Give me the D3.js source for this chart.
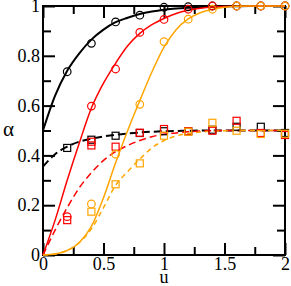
<!DOCTYPE html>
<html lang="en">
<head>
<meta charset="utf-8">
<script src="https://cdnjs.cloudflare.com/ajax/libs/d3/7.8.5/d3.min.js"></script>
<style>
body { margin: 0; background: #fff; }
text { font-family: "Liberation Serif", "DejaVu Serif", serif; }
</style>
</head>
<body>
<div id="chart"></div>
<script>

var curveU = [0,0.1,0.2,0.3,0.4,0.5,0.6,0.7,0.8,0.9,1,1.1,1.2,1.3,1.4,1.5,1.6,1.7,1.8,1.9,2]
var blackSolid   = [0.5,0.64,0.74,0.81,0.865,0.905,0.935,0.953,0.968,0.978,0.985,0.99,0.993,0.995,0.997,0.998,0.999,1,1,1,1]
var blackDashed  = [0.355,0.405,0.435,0.455,0.467,0.476,0.483,0.488,0.492,0.495,0.497,0.498,0.499,0.5,0.5,0.5,0.5,0.5,0.5,0.5,0.5]
var redSolid     = [0,0.14,0.3,0.45,0.59,0.69,0.77,0.84,0.89,0.925,0.95,0.97,0.983,0.991,0.996,0.998,0.999,1,1,1,1]
var redDashed    = [0,0.1,0.19,0.27,0.33,0.38,0.415,0.44,0.46,0.475,0.485,0.49,0.495,0.498,0.499,0.5,0.5,0.5,0.5,0.5,0.5]
var orangeSolid  = [0,0.004,0.018,0.05,0.115,0.23,0.37,0.5,0.62,0.735,0.835,0.905,0.948,0.973,0.987,0.995,0.999,1,1,1,1]
var orangeDashed = [0,0.004,0.018,0.05,0.105,0.19,0.28,0.335,0.385,0.43,0.46,0.478,0.488,0.494,0.497,0.499,0.5,0.5,0.5,0.5,0.5]

// symbols
var pointU = [0.2,0.4,0.6,0.8,1,1.2,1.4,1.6,1.8,2]
var blackCircles  = [0.736,0.85,0.936,0.963,0.995,0.997,1,1,1,1]
var redCircles    = [0.154,0.598,0.747,0.894,0.946,0.987,1,1,1,1]
var orangeCircles = [null,0.205,0.405,0.605,0.857,0.947,0.987,1,1,1]
var blackSquares  = [0.43,0.463,0.479,0.49,0.497,0.497,0.503,0.515,0.515,0.49]
var redSquares    = [0.14,0.44,0.435,0.491,0.506,0.497,0.499,0.539,0.49,0.482]
var redSquaresExtra = [null,0.455,null,null,null,null,null,null,null,null]
var orangeSquares = [null,0.174,0.284,0.368,0.479,0.495,0.531,0.499,0.486,0.487]

var xMajor = [0,0.5,1,1.5,2]
var xMinor = [0.25,0.75,1.25,1.75]
var yMajor = [0,0.2,0.4,0.6,0.8,1]
var yMinor = [0.1,0.3,0.5,0.7,0.9]

var svgWidth = 291, svgHeight = 286
var plotLeft = 43, plotRight = 285, plotTop = 6, plotBottom = 255

var svg = d3.select('#chart').append('svg')
    .attr('width', svgWidth)
    .attr('height', svgHeight)

var x = d3.scaleLinear().domain([0,2]).range([plotLeft,plotRight])
var y = d3.scaleLinear().domain([0,1]).range([plotBottom,plotTop])

function fmt(d) { return String(d) }

// ticks, all pointing inside
function addAxis(axis, tx, ty) {
    var g = svg.append('g')
        .attr('transform', 'translate('+tx+','+ty+')')
        .call(axis)
    g.select('.domain').remove()
    g.selectAll('line').attr('stroke', '#000').attr('stroke-width', 2)
    g.selectAll('text')
        .attr('font-family', '"Liberation Serif", serif')
        .attr('font-size', 18)
        .attr('fill', '#000')
    return g
}
addAxis(d3.axisBottom(x).tickValues(xMajor).tickSize(-12).tickPadding(2).tickFormat(fmt), 0, plotBottom)
addAxis(d3.axisBottom(x).tickValues(xMinor).tickSize(-8).tickFormat(''), 0, plotBottom)
addAxis(d3.axisTop(x).tickValues(xMajor).tickSize(-12).tickFormat(''), 0, plotTop)
addAxis(d3.axisTop(x).tickValues(xMinor).tickSize(-8).tickFormat(''), 0, plotTop)
addAxis(d3.axisLeft(y).tickValues(yMajor).tickSize(-12).tickPadding(3).tickFormat(fmt), plotLeft, 0)
addAxis(d3.axisLeft(y).tickValues(yMinor).tickSize(-8).tickFormat(''), plotLeft, 0)
addAxis(d3.axisRight(y).tickValues(yMajor).tickSize(-12).tickFormat(''), plotRight, 0)
addAxis(d3.axisRight(y).tickValues(yMinor).tickSize(-8).tickFormat(''), plotRight, 0)

svg.append('rect')
    .attr('x', plotLeft).attr('y', plotTop)
    .attr('width', plotRight-plotLeft).attr('height', plotBottom-plotTop)
    .attr('fill', 'none').attr('stroke', '#000').attr('stroke-width', 2)

// axis titles
svg.append('text')
    .attr('x', (plotLeft+plotRight)/2).attr('y', 283)
    .attr('text-anchor', 'middle')
    .attr('font-size', 18)
    .text('u')

svg.append('text')
    .attr('x', 3).attr('y', 136)
    .attr('font-size', 21)
    .text('α')

var line = d3.line()
    .x(function(d) { return x(d[0]) })
    .y(function(d) { return y(d[1]) })
    .curve(d3.curveMonotoneX)

function drawCurve(vals, color, w, dash) {
    svg.append('path')
        .datum(curveU.map(function(u, i) { return [u, vals[i]] }))
        .attr('d', line)
        .attr('fill', 'none')
        .attr('stroke', color)
        .attr('stroke-width', w)
        .attr('stroke-dasharray', dash)
}

function pts(vals) {
    return pointU.map(function(u, i) { return [u, vals[i]] })
        .filter(function(d) { return d[1] != null })
}

function drawCircles(vals, color) {
    svg.append('g').selectAll('circle')
        .data(pts(vals))
        .enter().append('circle')
            .attr('cx', function(d) { return x(d[0]) })
            .attr('cy', function(d) { return y(d[1]) })
            .attr('r', 3.8)
            .attr('fill', 'none')
            .attr('stroke', color)
            .attr('stroke-width', 1.2)
}

function drawSquares(vals, color) {
    var s = 7
    svg.append('g').selectAll('rect')
        .data(pts(vals))
        .enter().append('rect')
            .attr('x', function(d) { return x(d[0]) - s/2 })
            .attr('y', function(d) { return y(d[1]) - s/2 })
            .attr('width', s).attr('height', s)
            .attr('fill', 'none')
            .attr('stroke', color)
            .attr('stroke-width', 1.2)
}

drawCurve(blackSolid, '#000', 2, null)
drawCurve(blackDashed, '#000', 2, '8,4')
drawCurve(redSolid, '#ff0000', 1.5, null)
drawCurve(redDashed, '#ff0000', 1.5, '7,4')
drawCurve(orangeSolid, '#ffa500', 1.5, null)
drawCurve(orangeDashed, '#ffa500', 1.5, '5,4')

drawCircles(blackCircles, '#000')
drawSquares(blackSquares, '#000')
drawCircles(redCircles, '#ff0000')
drawSquares(redSquares, '#ff0000')
drawSquares(redSquaresExtra, '#ff0000')
drawCircles(orangeCircles, '#ffa500')
drawSquares(orangeSquares, '#ffa500')

</script>
</body>
</html>
